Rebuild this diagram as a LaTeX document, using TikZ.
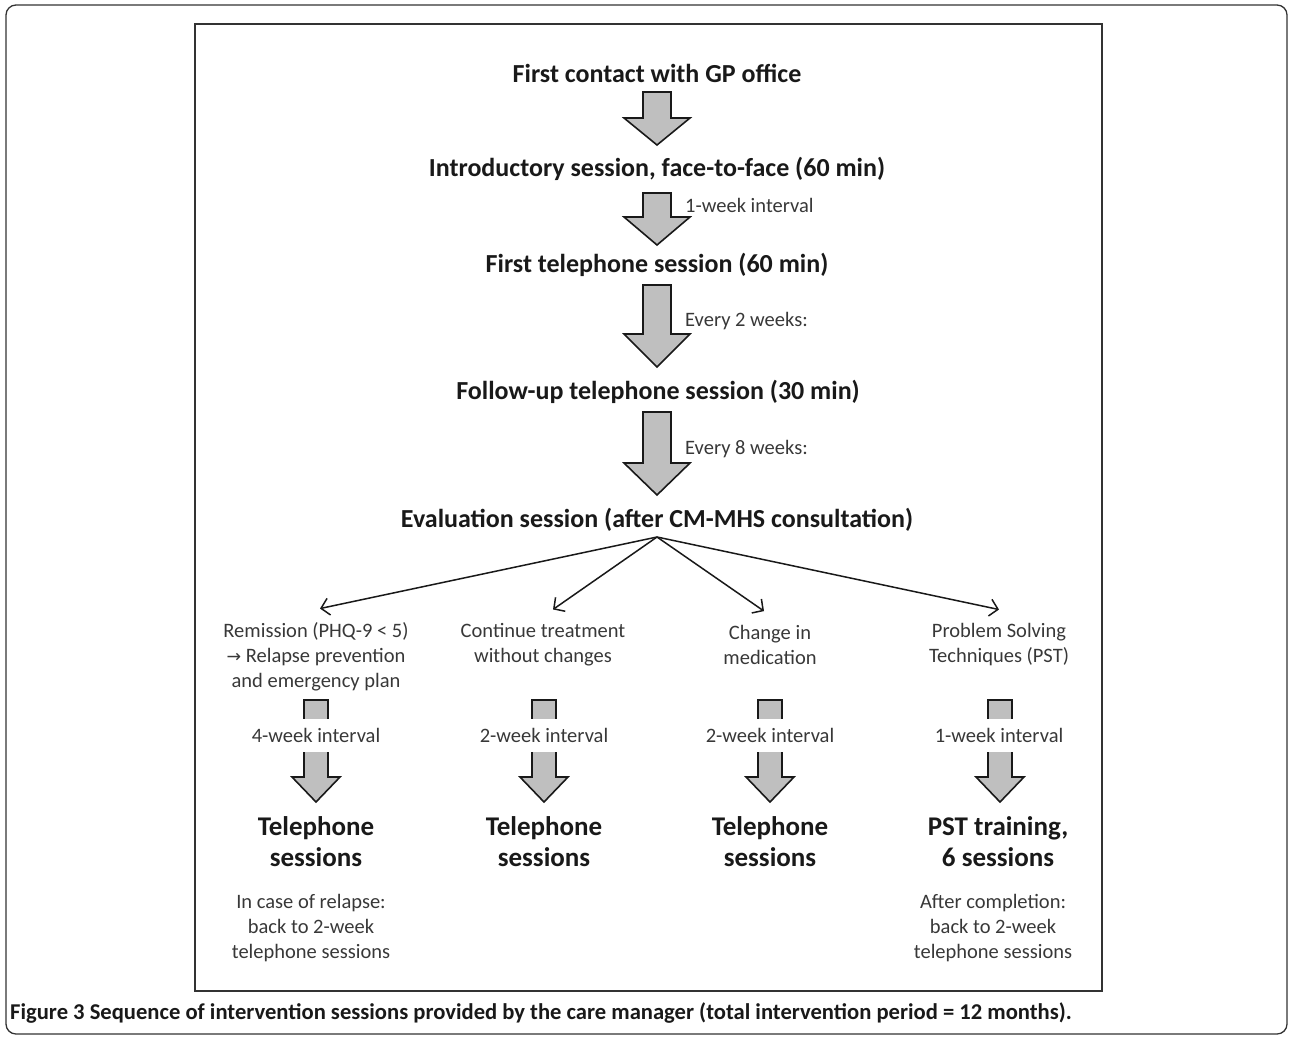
\documentclass[tikz,border=0pt]{standalone}
\usepackage{fontspec}
\setmainfont{Carlito}
\newfontfamily\arrowfont[Scale=0.85]{DejaVu Sans}
\usetikzlibrary{calc,arrows.meta}

% block arrow from #1 down to #2; shaft half, head half, head length
\newcommand{\fatarrow}[5]{%
  \path[fat] let \p1=(#1), \p2=(#2) in
    (\x1-#3pt,\y1) -- (\x1+#3pt,\y1) -- (\x1+#3pt,\y2+#5pt) -- (\x1+#4pt,\y2+#5pt)
    -- (\x1,\y2) -- (\x1-#4pt,\y2+#5pt) -- (\x1-#3pt,\y2+#5pt) -- cycle;}

\begin{document}
\begin{tikzpicture}[x=1pt,y=-1pt,
  head/.style={font=\fontsize{26}{30}\selectfont\bfseries, text=black!90, inner sep=0pt},
  note/.style={font=\fontsize{20.5}{25}\selectfont, text=black!78, align=center, inner sep=0pt},
  big/.style={font=\fontsize{27}{31}\selectfont\bfseries, text=black!90, align=center, inner sep=0pt},
  caption/.style={font=\fontsize{22.6}{26}\selectfont\bfseries, text=black!90, inner sep=0pt},
  fat/.style={draw=black!90, line width=1.6pt, fill=black!25},
  gap/.style={note, fill=white, minimum height=33pt, inner xsep=2pt},
  branch/.style={draw=black!90, line width=1.5pt, -{Straight Barb[length=8pt,width=17pt]}}]
\useasboundingbox (0,0) rectangle (1289,1036);
\draw[black!80, line width=1.3pt, rounded corners=10pt] (6,5) rectangle (1287,1034);
\draw[black!80, line width=1.6pt] (195,24) rectangle (1102,991);

\path (657,73) node[head] (first) {First contact with GP office}
      (657,169) node[head] (intro) {Introductory session, face-to-face (60 min)}
      (657,265) node[head] (tel) {First telephone session (60 min)}
      (658,392) node[head] (follow) {Follow-up telephone session (30 min)}
      (657,520) node[head] (eval) {Evaluation session (after CM-MHS consultation)}
      (685,205) node[note, anchor=west] (int1) {1-week interval}
      (685,321) node[note, anchor=west] (int2) {Every 2 weeks:}
      (685,449) node[note, anchor=west] (int3) {Every 8 weeks:}
      (316,657) node[note] (rem) {Remission (PHQ-9 < 5)\\{\arrowfont →} Relapse prevention\\and emergency plan}
      (543,645) node[note] (cont) {Continue treatment\\without changes}
      (770,645) node[note] (med) {Change in\\medication}
      (999,645) node[note] (pst) {Problem Solving\\Techniques (PST)}
      (316,842) node[big] (tel1) {Telephone\\sessions}
      (544,842) node[big] (tel2) {Telephone\\sessions}
      (770,842) node[big] (tel3) {Telephone\\sessions}
      (998,842) node[big] (pstt) {PST training,\\6 sessions}
      (311,928) node[note] (back1) {In case of relapse:\\back to 2-week\\telephone sessions}
      (993,928) node[note] (back2) {After completion:\\back to 2-week\\telephone sessions}
      (10,1013) node[caption, anchor=west] (cap) {Figure 3 Sequence of intervention sessions provided by the care manager (total intervention period = 12 months).};

\fatarrow{$(first)+(0,19)$}{$(intro)+(0,-24)$}{14}{33}{27}
\fatarrow{$(intro)+(0,24)$}{$(tel)+(0,-20)$}{14}{33}{28}
\fatarrow{$(tel)+(0,20)$}{$(follow)+(-1,-25)$}{14}{33}{33}
\fatarrow{$(follow)+(-1,20)$}{$(eval)+(0,-25)$}{14}{33}{32}

\coordinate (split) at (657,537);
\draw[branch] (split) -- ([shift={(4,-14)}]rem.north);
\draw[branch] (split) -- ([shift={(10,-14)}]cont.north);
\draw[branch] (split) -- ([shift={(-6,-14)}]med.north);
\draw[branch] (split) -- ([shift={(0,-14)}]pst.north);

\coordinate (smalltop) at (0,700);
\coordinate (smalltip) at (0,802);
\fatarrow{tel1 |- smalltop}{tel1 |- smalltip}{12}{24}{25}
\fatarrow{tel2 |- smalltop}{tel2 |- smalltip}{12}{24}{25}
\fatarrow{tel3 |- smalltop}{tel3 |- smalltip}{12}{24}{25}
\fatarrow{$(pstt |- smalltop)+(2,0)$}{$(pstt |- smalltip)+(2,0)$}{12}{24}{25}

\path (316,735) node[gap] (wk1) {4-week interval}
      (544,735) node[gap] (wk2) {2-week interval}
      (770,735) node[gap] (wk3) {2-week interval}
      (999,735) node[gap] (wk4) {1-week interval};
\end{tikzpicture}
\end{document}
